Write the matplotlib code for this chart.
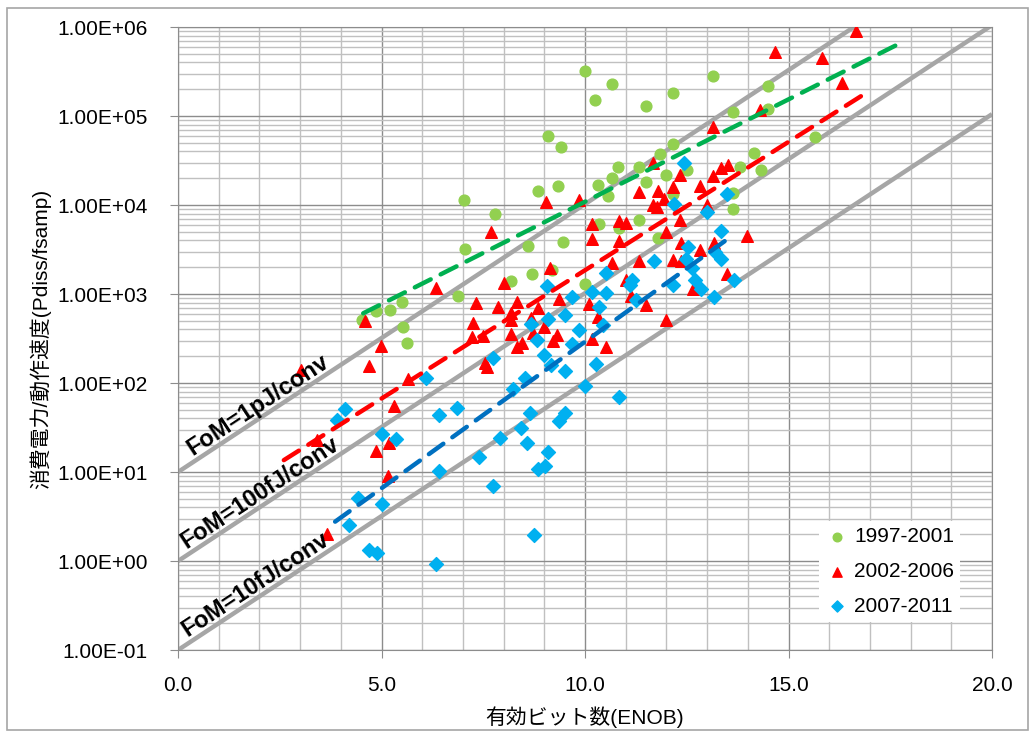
import matplotlib
matplotlib.use("Agg")
import matplotlib.pyplot as plt
from matplotlib.ticker import FixedLocator, FuncFormatter, NullFormatter
from matplotlib.patches import Rectangle
import numpy as np

plt.rcParams['font.family'] = ['Liberation Sans', 'Noto Sans CJK JP', 'DejaVu Sans']

# ================================
# Datos (ENOB, Pdiss/fsamp)
# ================================
g_x = [10.0, 10.66, 10.25, 11.50, 12.15, 13.15, 14.49, 14.49, 13.64, 15.65,
       9.10, 9.40, 8.84, 9.33, 7.03, 7.79, 7.05, 8.59, 9.45, 8.69,
       8.17, 9.18, 6.89, 5.50, 5.21, 4.86, 4.53, 5.52, 5.63, 10.0,
       12.16, 14.15, 14.32, 11.84, 10.82, 11.33, 10.66, 10.33, 10.57, 11.50,
       11.99, 12.51, 13.81, 12.16, 13.64, 13.64, 10.34, 10.84, 11.33, 11.80]
g_y = [3.2e5, 2.3e5, 1.5e5, 1.3e5, 1.8e5, 2.8e5, 2.2e5, 1.2e5, 1.1e5, 5.8e4,
       6.0e4, 4.5e4, 1.44e4, 1.65e4, 1.14e4, 7.9e3, 3.2e3, 3.5e3, 3.8e3, 1.66e3,
       1.39e3, 1.85e3, 950, 810, 670, 640, 510, 430, 280, 1.28e3,
       4.8e4, 3.8e4, 2.5e4, 3.7e4, 2.7e4, 2.7e4, 2.0e4, 1.7e4, 1.26e4, 1.8e4,
       2.2e4, 2.5e4, 2.65e4, 1.33e4, 1.35e4, 9.1e3, 6.1e3, 5.5e3, 6.8e3, 4.3e3]

r_x = [9.03, 7.68, 6.35, 8.00, 9.14, 7.31, 7.85, 8.34, 8.17, 8.84,
       9.37, 7.24, 4.59, 8.17, 8.67, 8.99, 8.17, 7.22, 7.50, 8.73,
       9.21, 9.30, 8.34, 8.45, 4.98, 4.69, 3.01, 5.66, 7.54, 7.58,
       5.31, 4.86, 5.18, 3.41, 5.17, 3.66, 14.66, 14.31, 13.15, 11.68,
       12.33, 13.15, 13.33, 13.51, 12.83, 12.17, 11.33, 11.80, 9.85, 11.95,
       11.66, 11.76, 12.99, 12.33, 10.84, 11.01, 10.16, 10.16, 10.84, 12.00,
       13.98, 12.36, 12.82, 13.17, 11.33, 10.66, 12.15, 12.35, 13.48, 11.01,
       11.13, 11.50, 12.65, 10.09, 10.33, 12.00, 10.17, 10.51, 16.66, 15.82,
       16.32]
r_y = [1.09e4, 5.0e3, 1.16e3, 1.33e3, 1.95e3, 790, 720, 820, 610, 690,
       870, 476, 503, 514, 537, 431, 353, 331, 337, 361,
       299, 344, 256, 279, 261, 155, 140, 111, 166, 151,
       55.8, 17.1, 21.2, 22.9, 9.0, 2.0, 5.2e5, 1.17e5, 7.5e4, 2.98e4,
       2.2e4, 2.1e4, 2.6e4, 2.8e4, 1.65e4, 1.58e4, 1.41e4, 1.44e4, 1.15e4, 1.16e4,
       1.0e4, 9.4e3, 1.0e4, 6.8e3, 6.6e3, 6.2e3, 6.1e3, 4.1e3, 3.9e3, 5.0e3,
       4.5e3, 3.7e3, 3.1e3, 3.7e3, 2.35e3, 2.23e3, 2.4e3, 2.37e3, 1.66e3, 1.45e3,
       950, 752, 1.14e3, 764, 552, 514, 310, 251, 9.1e5, 4.45e5,
       2.37e5]

b_x = [12.42, 13.50, 12.19, 12.99, 13.33, 12.54, 13.19, 13.33, 12.49, 11.70,
       12.63, 10.52, 11.15, 11.11, 12.17, 12.70, 12.84, 13.65, 13.16, 10.16,
       10.51, 9.67, 11.25, 10.35, 9.50, 10.44, 9.84, 10.26, 10.00, 10.84,
       9.67, 9.51, 9.51, 9.35, 7.75, 6.09, 4.10, 6.40, 6.85, 8.52,
       8.22, 8.65, 8.42, 7.91, 8.57, 9.10, 7.40, 8.84, 9.02, 9.00,
       8.83, 8.67, 9.10, 5.02, 5.35, 6.42, 7.73, 4.43, 5.02, 4.20,
       8.75, 4.68, 4.88, 6.34, 9.07, 9.16, 3.90]
b_y = [3.0e4, 1.33e4, 1.03e4, 8.4e3, 5.1e3, 3.4e3, 3.0e3, 2.5e3, 2.46e3, 2.34e3,
       1.96e3, 1.73e3, 1.43e3, 1.26e3, 1.26e3, 1.44e3, 1.15e3, 1.42e3, 914, 1.05e3,
       1.04e3, 918, 863, 714, 585, 454, 397, 163, 93, 69,
       275, 135, 46, 37, 191, 114, 51, 44, 52, 114,
       85, 46, 31, 24, 21, 17, 14.9, 10.7, 11.6, 204,
       307, 458, 521, 26.5, 23.4, 10.4, 7.0, 5.06, 4.34, 2.56,
       1.96, 1.32, 1.22, 0.92, 1.23e3, 159, 38]

series_labels = ["1997-2001", "2002-2006", "2007-2011"]

# Lineas de tendencia (extremos)
g_trend_x = [4.55, 17.86]
g_trend_y = [607, 7.0e5]
r_trend_x = [2.6, 16.99]
r_trend_y = [13.6, 1.92e5]
b_trend_x = [3.86, 13.64]
b_trend_y = [2.77, 4.6e3]

# Lineas FoM (extremos)
fom_x = [0, 20]
fom_y0 = [10, 1, 0.1]
fom_y1 = [1.05e7, 1.05e6, 1.05e5]
fom_labels = ["FoM=1pJ/conv", "FoM=100fJ/conv", "FoM=10fJ/conv"]
fom_label_x = [0.35, 0.2, 0.22]

y_ticks = [0.1, 1, 10, 100, 1e3, 1e4, 1e5, 1e6]

# ================================
# Figura
# ================================
fig = plt.figure(figsize=(10.35, 7.36), dpi=100)
ax = fig.add_axes([0.172, 0.1168, 0.7865, 0.8465])
fig.patches.append(Rectangle((0.007, 0.008), 0.986, 0.981, transform=fig.transFigure,
                             fill=False, edgecolor="#a6a6a6", linewidth=1.2))

ax.set_xlim(0, 20)
ax.set_yscale("log")
ax.set_ylim(0.1, 1e6)

# Rejilla
ax.xaxis.set_major_locator(FixedLocator([0, 5, 10, 15, 20]))
ax.xaxis.set_minor_locator(FixedLocator(np.arange(0, 21, 1)))
ax.yaxis.set_major_locator(FixedLocator(y_ticks))
ax.yaxis.set_minor_locator(FixedLocator([d * k for d in y_ticks[:-1] for k in range(2, 10)]))
ax.grid(True, which="major", color="#8c8c8c", linewidth=1.0)
ax.grid(True, which="minor", color="#c0c0c0", linewidth=1.0)
ax.set_axisbelow(True)
ax.tick_params(axis="both", which="minor", length=0)
ax.tick_params(axis="both", which="major", length=6, color="#8c8c8c", labelsize=15)
ax.tick_params(axis="y", which="major", pad=16)
ax.tick_params(axis="x", which="major", pad=13)
ax.yaxis.set_minor_formatter(NullFormatter())
ax.yaxis.set_major_formatter(FuncFormatter(lambda v, p: f"{v:.2E}"))
ax.xaxis.set_major_formatter(FuncFormatter(lambda v, p: f"{v:.1f}"))
for s in ax.spines.values():
    s.set_color("#8c8c8c")

# Lineas FoM
for y0, y1 in zip(fom_y0, fom_y1):
    ax.plot(fom_x, [y0, y1], color="#a6a6a6", linewidth=3.2, zorder=2,
            solid_capstyle="butt")

# Puntos
ax.scatter(g_x, g_y, marker="o", s=60, color="#92d050", zorder=3, label=series_labels[0])
ax.scatter(r_x, r_y, marker="^", s=70, color="#ff0000", zorder=3, label=series_labels[1])
ax.scatter(b_x, b_y, marker="D", s=50, color="#00b0f0", zorder=3, label=series_labels[2])

# Tendencias
for tx, ty, c in [(g_trend_x, g_trend_y, "#00b050"),
                  (r_trend_x, r_trend_y, "#ff0000"),
                  (b_trend_x, b_trend_y, "#0070c0")]:
    ax.plot(tx, ty, color=c, linewidth=3.2, dashes=(4, 2.5), zorder=4,
            dash_capstyle="round")

# Etiquetas FoM
p0 = ax.transData.transform((0, 1))
p1 = ax.transData.transform((20, 1.05e6))
ang = np.degrees(np.arctan2(p1[1] - p0[1], p1[0] - p0[0]))
for y0, lab, lx in zip(fom_y0, fom_labels, fom_label_x):
    ly = y0 * 2 ** lx * 1.2
    ax.text(lx, ly, lab, rotation=ang, rotation_mode="anchor", ha="left",
            va="baseline", fontsize=17, fontweight="bold", color="black", zorder=5)

ax.set_xlabel("有効ビット数(ENOB)", fontsize=15, labelpad=8)
ax.set_ylabel("消費電力/動作速度(Pdiss/fsamp)", fontsize=15, labelpad=4)

leg = ax.legend(loc="lower right", bbox_to_anchor=(0.961, 0.045), borderaxespad=0,
                fontsize=15, frameon=True, fancybox=False, edgecolor="none",
                facecolor="white", framealpha=1, handletextpad=0.2,
                labelspacing=0.75, borderpad=0.3, handlelength=1.2, markerscale=0.8)

fig.savefig("out.png", dpi=100)
